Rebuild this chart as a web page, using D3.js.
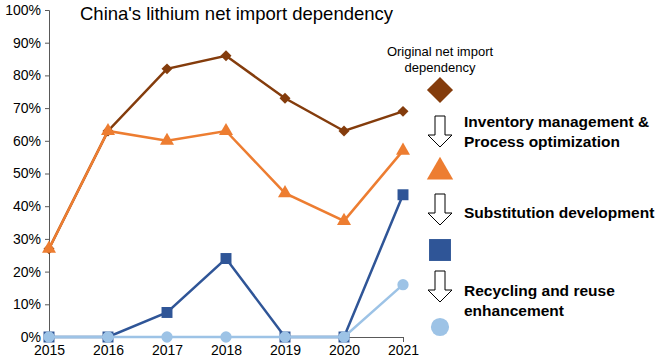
<!DOCTYPE html>
<html>
<head>
<meta charset="utf-8">
<script src="https://cdn.jsdelivr.net/npm/d3@7"></script>
<style>
  body { margin: 0; background: #fff; }
  svg { font-family: "Liberation Sans", Arial, sans-serif; }
</style>
</head>
<body>
<svg id="chart"></svg>
<script>
const years = [2015, 2016, 2017, 2018, 2019, 2020, 2021];
const original = [0.27, 0.63, 0.82, 0.86, 0.73, 0.63, 0.69];
const inventory = [0.27, 0.63, 0.60, 0.63, 0.44, 0.355, 0.57];
const substitution = [0, 0, 0.075, 0.24, 0, 0, 0.435];
const recycling = [0, 0, 0, 0, 0, 0, 0.16];
const yTicks = [0, 0.1, 0.2, 0.3, 0.4, 0.5, 0.6, 0.7, 0.8, 0.9, 1];

const width = 661, height = 364;
const margin = {top: 10, right: 258, bottom: 27, left: 49};

const svg = d3.select("#chart").attr("width", width).attr("height", height);

const x = d3.scalePoint()
    .domain(years)
    .range([margin.left, width - margin.right]);

const y = d3.scaleLinear()
    .domain([0, 1])
    .range([height - margin.bottom, margin.top]);

// axes
const yAxis = svg.append("g")
    .attr("transform", `translate(${margin.left},0)`)
    .call(d3.axisLeft(y).tickValues(yTicks).tickFormat(d3.format(".0%")).tickSize(4).tickPadding(4));
yAxis.selectAll("text").attr("font-size", 14).attr("fill", "#000");
yAxis.selectAll("line, path").attr("stroke", "#595959");

const xAxis = svg.append("g")
    .attr("transform", `translate(0,${height - margin.bottom})`)
    .call(d3.axisBottom(x).tickSize(5).tickPadding(3).tickSizeOuter(0));
xAxis.selectAll("text").attr("font-size", 14).attr("fill", "#000");
xAxis.selectAll("line, path").attr("stroke", "#595959");

// title
svg.append("text")
    .attr("x", 80).attr("y", 20)
    .attr("font-size", 18.5)
    .attr("fill", "#000")
    .text("China's lithium net import dependency");

// diamond = square turned 45 degrees
const series = [
  {name: "original", values: original, color: "#843C0C", symbol: d3.symbolSquare, size: 60, legendSize: 340, rotate: 45},
  {name: "inventory", values: inventory, color: "#ED7D31", symbol: d3.symbolTriangle, size: 85, legendSize: 300, rotate: 0},
  {name: "substitution", values: substitution, color: "#2F5597", symbol: d3.symbolSquare, size: 120, legendSize: 480, rotate: 0},
  {name: "recycling", values: recycling, color: "#9DC3E6", symbol: d3.symbolCircle, size: 100, legendSize: 260, rotate: 0}
];

const line = d3.line()
    .x((d, i) => x(years[i]))
    .y(d => y(d));

series.forEach(s => {
  svg.append("path")
     .datum(s.values)
     .attr("fill", "none")
     .attr("stroke", s.color)
     .attr("stroke-width", 2.5)
     .attr("d", line);
  svg.selectAll(".m-" + s.name)
     .data(s.values)
     .enter()
     .append("path")
     .attr("class", "m-" + s.name)
     .attr("transform", (d, i) => `translate(${x(years[i])},${y(d)}) rotate(${s.rotate})`)
     .attr("d", d3.symbol().type(s.symbol).size(s.size))
     .attr("fill", s.color);
});

// legend
const lx = 440;
svg.append("text")
    .attr("x", lx).attr("y", 56)
    .attr("text-anchor", "middle")
    .attr("font-size", 13)
    .attr("fill", "#000")
    .selectAll("tspan")
    .data(["Original net import", "dependency"])
    .enter().append("tspan")
    .attr("x", lx)
    .attr("dy", (d, i) => i === 0 ? 0 : 16)
    .text(d => d);

const legendY = [90, 172, 250, 327];
series.forEach((s, i) => {
  svg.append("path")
     .attr("transform", `translate(${lx},${legendY[i]}) rotate(${s.rotate})`)
     .attr("d", d3.symbol().type(s.symbol).size(s.legendSize))
     .attr("fill", s.color);
});

const arrowY = [116, 194, 271];
const arrowPath = "M-5,0 L5,0 L5,19 L12,19 L0,31 L-12,19 L-5,19 Z";
arrowY.forEach(ay => {
  svg.append("path")
     .attr("transform", `translate(${lx},${ay})`)
     .attr("d", arrowPath)
     .attr("fill", "#fff")
     .attr("stroke", "#000")
     .attr("stroke-width", 1);
});

const labels = [
  {lines: ["Inventory management &", "Process optimization"], y: 127},
  {lines: ["Substitution development"], y: 218},
  {lines: ["Recycling and reuse", "enhancement"], y: 296}
];
labels.forEach(l => {
  svg.append("text")
     .attr("x", 464).attr("y", l.y)
     .attr("font-size", 15.5)
     .attr("font-weight", "bold")
     .attr("fill", "#000")
     .selectAll("tspan")
     .data(l.lines)
     .enter().append("tspan")
     .attr("x", 464)
     .attr("dy", (d, i) => i === 0 ? 0 : 19.5)
     .text(d => d);
});
</script>
</body>
</html>
